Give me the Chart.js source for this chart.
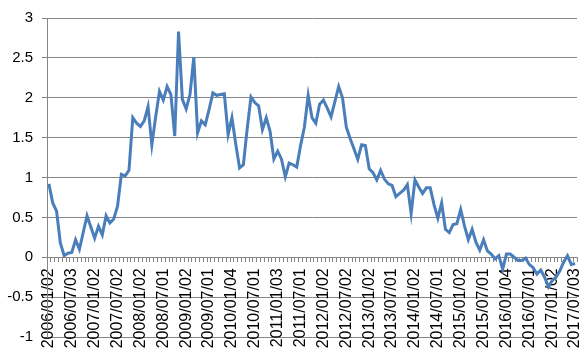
<!DOCTYPE html>
<html>
<head>
<meta charset="utf-8">
<script src="https://cdn.jsdelivr.net/npm/chart.js@4/dist/chart.umd.min.js"></script>
<style>
  html, body { margin: 0; padding: 0; background: #ffffff; }
  #wrap { width: 588px; height: 355px; position: relative; }
</style>
</head>
<body>
<div id="wrap"><canvas id="c"></canvas></div>
<script>
// Tick labels shown every 6 months (first business day of the month)
const tickLabels = [
  "2006/01/02","2006/07/03","2007/01/02","2007/07/02","2008/01/02","2008/07/01",
  "2009/01/02","2009/07/01","2010/01/04","2010/07/01","2011/01/03","2011/07/01",
  "2012/01/02","2012/07/02","2013/01/02","2013/07/01","2014/01/02","2014/07/01",
  "2015/01/02","2015/07/01","2016/01/04","2016/07/01","2017/01/02","2017/07/03"
];

// Monthly values, 2006/01 .. 2017/07
const values = [
  0.92, 0.68, 0.58, 0.18, 0.02, 0.05, 0.06, 0.22, 0.10, 0.31, 0.52, 0.38,
  0.24, 0.39, 0.28, 0.52, 0.43, 0.48, 0.64, 1.04, 1.02, 1.09, 1.75, 1.68,
  1.64, 1.71, 1.89, 1.41, 1.76, 2.08, 1.97, 2.14, 2.04, 1.52, 2.83, 1.98,
  1.86, 2.04, 2.51, 1.56, 1.71, 1.66, 1.85, 2.06, 2.03, 2.04, 2.05, 1.54,
  1.75, 1.42, 1.12, 1.16, 1.61, 2.01, 1.94, 1.90, 1.60, 1.75, 1.58, 1.23,
  1.33, 1.23, 1.01, 1.18, 1.16, 1.13, 1.40, 1.63, 2.03, 1.75, 1.68, 1.92,
  1.97, 1.87, 1.76, 1.95, 2.14, 2.00, 1.63, 1.49, 1.36, 1.23, 1.41, 1.40,
  1.11, 1.06, 0.97, 1.09, 0.98, 0.92, 0.90, 0.76, 0.80, 0.84, 0.91, 0.55,
  0.97, 0.88, 0.80, 0.87, 0.87, 0.66, 0.49, 0.68, 0.35, 0.31, 0.41, 0.42,
  0.60, 0.39, 0.22, 0.35, 0.19, 0.09, 0.22, 0.08, 0.04, -0.02, 0.02, -0.15,
  0.04, 0.04, 0.00, -0.04, -0.04, -0.01, -0.09, -0.13, -0.21, -0.16, -0.25, -0.37,
  -0.29, -0.25, -0.17, -0.06, 0.02, -0.09, -0.08
];

const yTicks = { min: -1, max: 3, step: 0.5 };

const categories = values.map((v, i) => (i % 6 === 0 && tickLabels[i / 6]) ? tickLabels[i / 6] : "");

const FONT_Y = { family: "'Liberation Sans', Arial, sans-serif", size: 15 };
const FONT_X = { family: "'Liberation Sans', Arial, sans-serif", size: 16 };
const GRID = "#868686";

new Chart(document.getElementById("c"), {
  type: "line",
  data: {
    labels: categories,
    datasets: [{
      data: values,
      borderColor: "#4a7ebb",
      borderWidth: 3,
      pointRadius: 0,
      pointHoverRadius: 0,
      tension: 0,
      fill: false
    }]
  },
  options: {
    responsive: true,
    maintainAspectRatio: false,
    animation: false,
    events: [],
    layout: { padding: { left: 0, top: 14, right: 11, bottom: 18 } },
    plugins: { legend: { display: false }, tooltip: { enabled: false } },
    scales: {
      x: {
        type: "category",
        position: { y: 0 },
        offset: true,
        grid: {
          drawOnChartArea: false,
          drawTicks: true,
          tickLength: 4,
          color: GRID,
          offset: true
        },
        border: { display: true, color: GRID, width: 1 },
        ticks: {
          autoSkip: false,
          maxRotation: 90,
          minRotation: 90,
          padding: 7,
          color: "#000000",
          font: FONT_X
        },
        afterFit: (s) => { s.paddingLeft = 0; s.paddingRight = 0; }
      },
      y: {
        min: yTicks.min,
        max: yTicks.max,
        grid: {
          color: GRID,
          lineWidth: 1,
          drawTicks: true,
          tickLength: 5
        },
        border: { display: true, color: GRID, width: 1 },
        ticks: {
          stepSize: yTicks.step,
          padding: 9,
          color: "#000000",
          font: FONT_Y,
          callback: (v) => String(Math.round(v * 10) / 10)
        },
        afterFit: (s) => { s.width = 47; }
      }
    }
  }
});
</script>
</body>
</html>
